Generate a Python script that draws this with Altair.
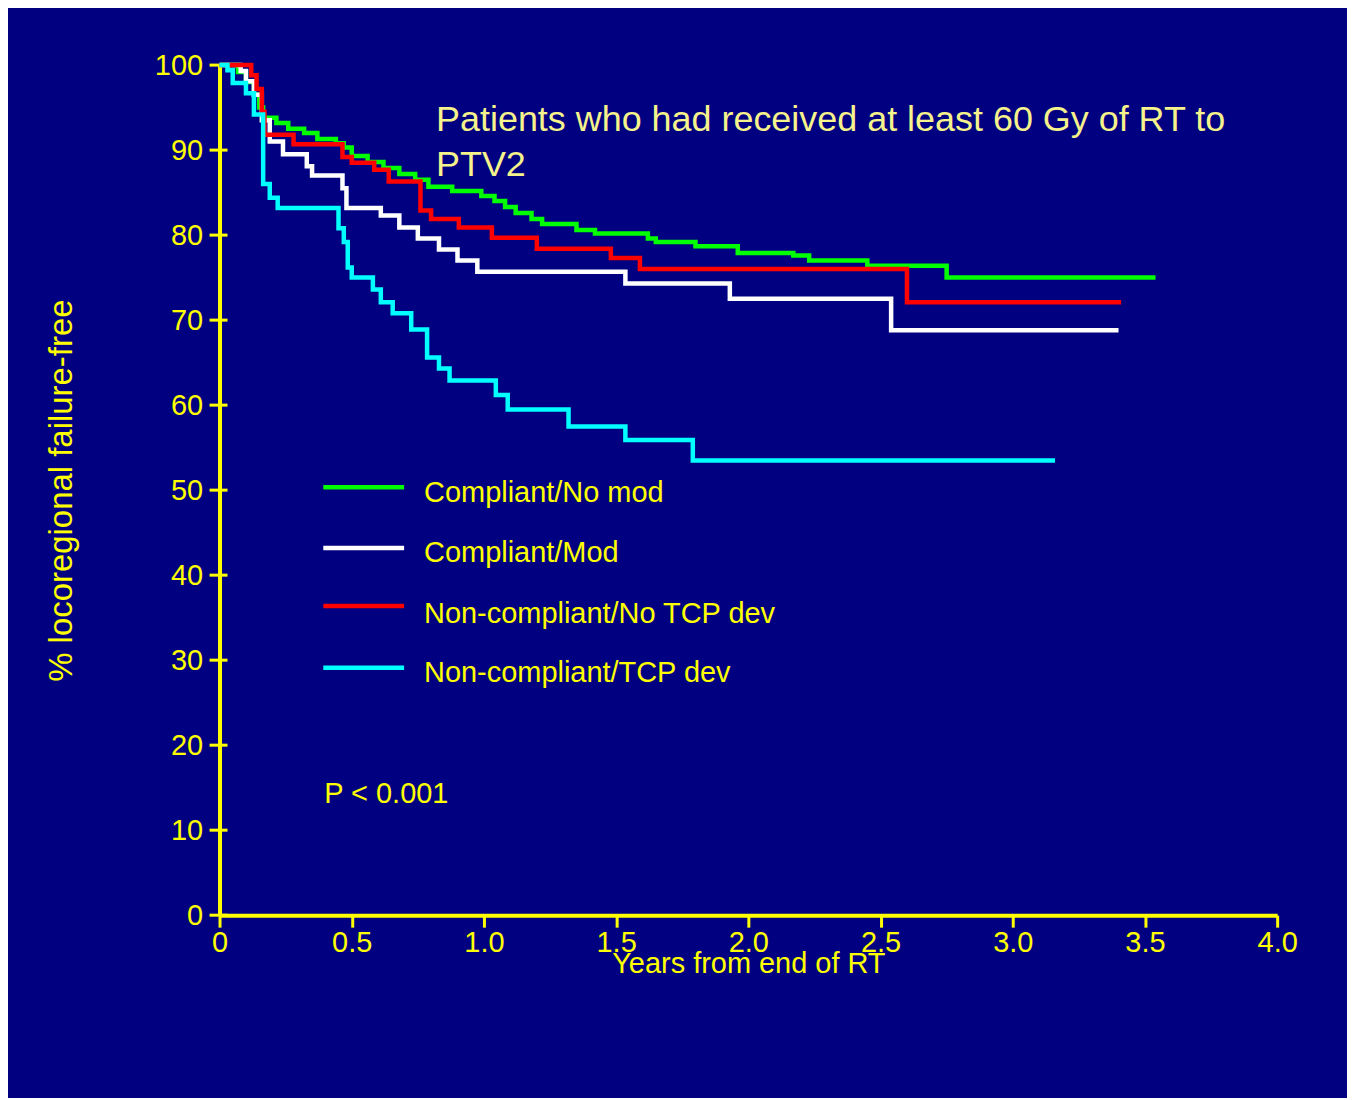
import altair as alt
import pandas as pd

# ---- data (years, % failure-free) ----
series_names = ["Compliant/No mod", "Compliant/Mod", "Non-compliant/No TCP dev", "Non-compliant/TCP dev"]
series_colors = ["#00ff00", "#ffffff", "#ff0000", "#00ffff"]

green_t = [0, 0.07, 0.10, 0.13, 0.15, 0.165, 0.215, 0.26, 0.32, 0.37, 0.44, 0.47, 0.50, 0.56, 0.62, 0.68,
           0.74, 0.79, 0.88, 0.99, 1.04, 1.08, 1.12, 1.18, 1.22, 1.35, 1.42, 1.62, 1.65, 1.80, 1.96,
           2.17, 2.23, 2.45, 2.75, 3.54]
green_v = [100, 99.2, 98.0, 96.5, 95.0, 93.8, 93.2, 92.5, 92.0, 91.3, 90.8, 90.3, 89.3, 88.6, 87.9, 87.2,
           86.5, 85.7, 85.2, 84.6, 84.0, 83.3, 82.6, 81.9, 81.3, 80.6, 80.2, 79.6, 79.2, 78.7, 77.9,
           77.6, 77.0, 76.4, 75.0, 75.0]

white_t = [0, 0.08, 0.10, 0.13, 0.16, 0.19, 0.24, 0.33, 0.35, 0.465, 0.48, 0.61, 0.68, 0.75, 0.83, 0.90,
           0.975, 1.535, 1.93, 2.54, 3.40]
white_v = [100, 99.3, 98.1, 96.5, 93.5, 91.0, 89.5, 88.1, 87.0, 85.5, 83.2, 82.3, 80.9, 79.6, 78.3, 77.0,
           75.7, 74.3, 72.5, 68.8, 68.8]

red_t = [0, 0.12, 0.14, 0.16, 0.17, 0.28, 0.465, 0.50, 0.585, 0.64, 0.76, 0.80, 0.905, 1.03, 1.20, 1.48,
         1.59, 2.60, 3.41]
red_v = [100, 98.8, 97.2, 94.5, 91.8, 90.7, 89.2, 88.5, 87.7, 86.3, 82.9, 81.9, 80.9, 79.7, 78.4, 77.3,
         76.0, 72.1, 72.1]

cyan_t = [0, 0.03, 0.05, 0.10, 0.13, 0.165, 0.19, 0.22, 0.45, 0.47, 0.485, 0.50, 0.58, 0.61, 0.655, 0.725,
          0.785, 0.83, 0.87, 1.045, 1.09, 1.32, 1.535, 1.79, 3.16]
cyan_v = [100, 99.4, 97.9, 96.7, 94.2, 86.0, 84.4, 83.2, 80.8, 79.2, 76.2, 75.0, 73.6, 72.1, 70.8, 68.9,
          65.6, 64.3, 62.9, 61.2, 59.5, 57.5, 55.9, 53.5, 53.5]

x_ticks = [0, 0.5, 1.0, 1.5, 2.0, 2.5, 3.0, 3.5, 4.0]
y_ticks = [0, 10, 20, 30, 40, 50, 60, 70, 80, 90, 100]

title_lines = ["Patients who had received at least 60 Gy of RT to", "PTV2"]
p_text = "P < 0.001"

YELLOW = "#ffff00"
FONT = "Liberation Sans"

x_scale = alt.Scale(domain=[0, 4], nice=False, zero=False)
y_scale = alt.Scale(domain=[0, 100], nice=False, zero=False)

x_axis = alt.Axis(
    values=x_ticks,
    labelExpr="datum.value == 0 ? '0' : format(datum.value, '.1f')",
    title="Years from end of RT",
    titleY=57, titleBaseline="alphabetic",
    tickSize=12, tickWidth=3, tickColor=YELLOW,
    labelPadding=1, labelFlush=False, labelOverlap=False, grid=False,
)
y_axis = alt.Axis(
    values=y_ticks, format="d",
    title="% locoregional failure-free", titleFontSize=33,
    titleAngle=-90, titleX=-158, titleY=426, titleAlign="center", titleBaseline="middle",
    ticks=False, tickSize=0, labelPadding=17, labelFlush=False, labelOverlap=False, grid=False,
)

curves = [(green_t, green_v), (white_t, white_v), (red_t, red_v), (cyan_t, cyan_v)]

layers = []

# y-axis tick marks crossing the axis
ytick_df = pd.DataFrame({"v": y_ticks})
layers.append(
    alt.Chart(ytick_df).mark_rule(color=YELLOW, strokeWidth=3).encode(
        y=alt.Y("v:Q", scale=y_scale, axis=y_axis),
        x=alt.value(-10), x2=alt.value(8),
    )
)

for (t, v), name, col in zip(curves, series_names, series_colors):
    d = pd.DataFrame({"t": t, "v": v, "group": name})
    layers.append(
        alt.Chart(d).mark_line(interpolate="step-after", strokeWidth=4.5, color=col).encode(
            x=alt.X("t:Q", scale=x_scale, axis=x_axis),
            y=alt.Y("v:Q", scale=y_scale, axis=y_axis),
        )
    )

# legend (manual, inside plot)
legend_line_y = [423, 484, 542, 604]
legend_text_y = [438, 498, 559, 618]
for name, col, ly, ty in zip(series_names, series_colors, legend_line_y, legend_text_y):
    d = pd.DataFrame({"label": [name]})
    layers.append(
        alt.Chart(d).mark_rule(color=col, strokeWidth=4.5).encode(
            x=alt.value(104), x2=alt.value(185), y=alt.value(ly)
        )
    )
    layers.append(
        alt.Chart(d).mark_text(align="left", baseline="alphabetic", font=FONT, fontSize=29, color=YELLOW).encode(
            x=alt.value(205), y=alt.value(ty), text="label:N"
        )
    )

# annotation title (two lines)
for line, ty in zip(title_lines, [66, 111]):
    d = pd.DataFrame({"txt": [line]})
    layers.append(
        alt.Chart(d).mark_text(align="left", baseline="alphabetic", font=FONT, fontSize=36, color="#f6f28c").encode(
            x=alt.value(217), y=alt.value(ty), text="txt:N"
        )
    )

pdf = pd.DataFrame({"txt": [p_text]})
layers.append(
    alt.Chart(pdf).mark_text(align="left", baseline="alphabetic", font=FONT, fontSize=29, color=YELLOW).encode(
        x=alt.value(105), y=alt.value(740), text="txt:N"
    )
)

chart = alt.layer(*layers).properties(
    width=1060, height=852,
    autosize=alt.AutoSizeParams(type="none"),
    padding={"left": 212, "top": 56, "right": 70, "bottom": 182},
    background="#000080",
).configure_view(stroke=None).configure_axis(
    domainColor=YELLOW, domainWidth=4,
    labelColor=YELLOW, labelFont=FONT, labelFontSize=29, labelFontWeight="normal",
    titleColor=YELLOW, titleFont=FONT, titleFontSize=29, titleFontWeight="normal",
)

chart.save("out.html", embed_options={"renderer": "svg", "actions": False})
